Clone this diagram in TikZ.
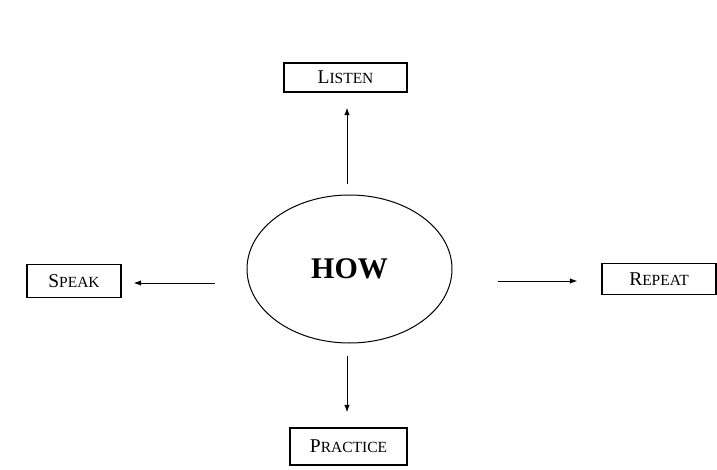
\documentclass[tikz,border=0pt]{standalone}
\usepackage{fontspec}
\setmainfont{Liberation Serif}
\usetikzlibrary{shapes.geometric,arrows.meta}
\newcommand{\mysc}[2]{{\fontsize{19.5}{19.5}\selectfont #1}{\fontsize{15.5}{15.5}\selectfont #2}}
\tikzset{
  box/.style={draw, line width=1.3pt, inner sep=0pt, anchor=center},
  arr/.style={line width=1pt, -{Latex[length=7.5pt,width=5.5pt]}},
}
\begin{document}
\begin{tikzpicture}[x=1pt,y=-1pt]
\useasboundingbox (0,0) rectangle (717,470);
\node[draw, ellipse, line width=1pt, minimum width=205pt, minimum height=148pt, inner sep=0pt] (how) at (349.5,269) {\fontsize{30}{30}\selectfont\bfseries HOW};
\node[box, minimum width=123pt, minimum height=29pt] (listen) at (345.5,77.5) {\mysc{L}{ISTEN}};
\node[box, minimum width=94pt, minimum height=33pt] (speak) at (74,281) {\mysc{S}{PEAK}};
\node[box, minimum width=114pt, minimum height=31pt] (repeat) at (659,279) {\mysc{R}{EPEAT}};
\node[box, minimum width=117pt, minimum height=37pt] (practice) at (348.5,446.5) {\mysc{P}{RACTICE}};
\draw[arr, shorten <=10pt, shorten >=15pt] ([xshift=-2.5pt]how.north) -- ([xshift=-2.5pt]how.north |- listen.south);
\draw[arr, shorten <=12pt, shorten >=15pt] ([xshift=-2.5pt]how.south) -- ([xshift=-2.5pt]how.south |- practice.north);
\draw[arr, shorten <=32pt, shorten >=12pt] ([yshift=-2pt]how.west |- speak.east) -- ([yshift=-2pt]speak.east);
\draw[arr, shorten <=45pt, shorten >=24pt] ([yshift=-2pt]how.east |- repeat.west) -- ([yshift=-2pt]repeat.west);
\end{tikzpicture}
\end{document}
